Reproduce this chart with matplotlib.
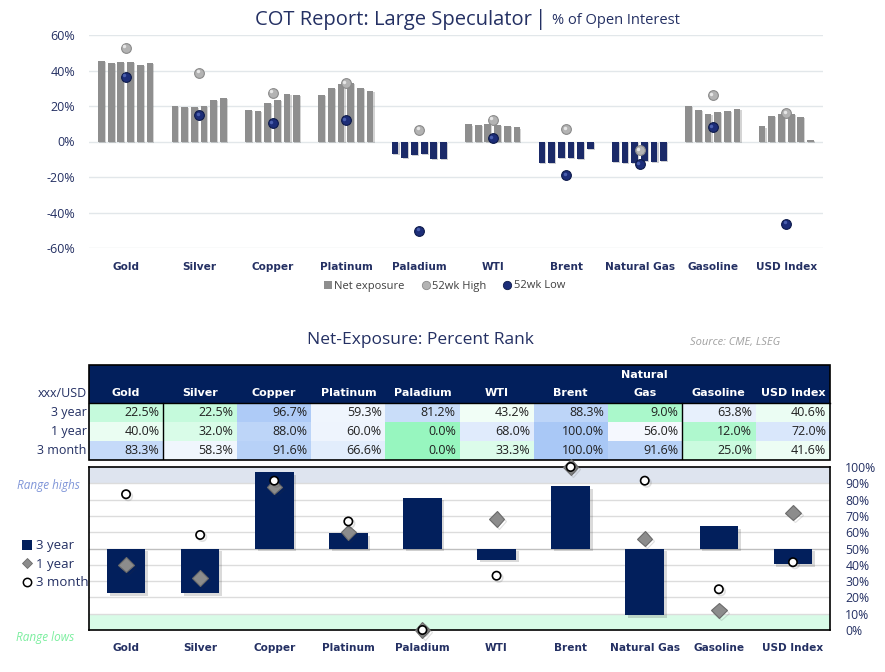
import numpy as np
import matplotlib
matplotlib.use("Agg")
import matplotlib.pyplot as plt
from matplotlib.colors import LinearSegmentedColormap
from matplotlib.patches import Rectangle
from matplotlib.lines import Line2D
import matplotlib.patheffects as pe

# ---------------- data ----------------
categories = ["Gold", "Silver", "Copper", "Platinum", "Paladium", "WTI",
              "Brent", "Natural Gas", "Gasoline", "USD Index"]
table_headers = ["Gold", "Silver", "Copper", "Platinum", "Paladium", "WTI",
                 "Brent", "Natural\nGas", "Gasoline", "USD Index"]

net_gold = [45.3, 44.3, 44.7, 44.7, 43.0, 44.3]
net_silver = [20.2, 19.4, 19.6, 20.2, 23.6, 24.3]
net_copper = [17.9, 17.4, 21.9, 23.2, 27.0, 26.4]
net_platinum = [26.2, 30.0, 32.6, 32.8, 30.0, 28.7]
net_paladium = [-7.0, -9.2, -7.5, -7.0, -9.8, -9.8]
net_wti = [9.6, 9.2, 9.6, 9.2, 8.7, 7.9]
net_brent = [-12.3, -12.3, -9.4, -9.4, -10.0, -4.3]
net_natgas = [-11.7, -12.3, -12.3, -10.8, -11.3, -10.8]
net_gasoline = [19.8, 17.9, 15.5, 16.8, 17.4, 18.3]
net_usd = [8.5, 14.2, 15.3, 15.3, 13.8, 1.1]
net_exposure = [net_gold, net_silver, net_copper, net_platinum, net_paladium,
                net_wti, net_brent, net_natgas, net_gasoline, net_usd]

high_52wk = [52.8, 38.7, 27.5, 33.0, 6.6, 12.3, 7.0, -4.9, 26.2, 16.0]
low_52wk = [36.4, 14.9, 10.4, 12.1, -50.2, 1.9, -19.1, -12.8, 8.1, -46.2]

rank_3y = [22.5, 22.5, 96.7, 59.3, 81.2, 43.2, 88.3, 9.0, 63.8, 40.6]
rank_1y = [40.0, 32.0, 88.0, 60.0, 0.0, 68.0, 100.0, 56.0, 12.0, 72.0]
rank_3m = [83.3, 58.3, 91.6, 66.6, 0.0, 33.3, 100.0, 91.6, 25.0, 41.6]
row_labels = ["3 year", "1 year", "3 month"]

# ---------------- style ----------------
NAVY = "#021f5c"
TXT = "#243063"
GRAY_BAR = "#8e8e8e"
NAVY_BAR = "#1b2a68"
W, H = 885, 672

def fx(px):
    return px / W

def fy(py):
    return 1 - py / H

fig = plt.figure(figsize=(8.85, 6.72), dpi=100)
fig.patch.set_facecolor("white")
SANS = ["Open Sans", "DejaVu Sans"]
BOLD = ["DejaVu Sans"]

# ---------------- titles ----------------
fig.text(fx(532), fy(20), "COT Report: Large Speculator", ha="right", va="center",
         fontsize=14.5, color=TXT, family=SANS)
fig.text(fx(541), fy(19), "|", ha="center", va="center", fontsize=15, color=TXT, family=SANS)
fig.text(fx(552), fy(21), "% of Open Interest", ha="left", va="center",
         fontsize=10.5, color=TXT, family=SANS)

# ---------------- top chart ----------------
ax1 = fig.add_axes([fx(89), fy(248), fx(823) - fx(89), (248 - 35) / H])
n = len(categories)
x = np.arange(n)
pitch = 0.132
bw = 0.092
for i, vals in enumerate(net_exposure):
    offs = (np.arange(len(vals)) - (len(vals) - 1) / 2) * pitch
    cols = [GRAY_BAR if v >= 0 else NAVY_BAR for v in vals]
    ax1.bar(x[i] + offs, vals, width=bw, color=cols, zorder=3,
            path_effects=[pe.withSimplePatchShadow(offset=(0.8, -0.8), alpha=0.2)])

ax1.plot(x, high_52wk, "o", ms=7, color="#b3b3b3", mec="#8a8a8a", mew=0.8, zorder=5)
ax1.plot(x - 0.02, np.array(high_52wk) + 0.8, "o", ms=2.5, color="#e6e6e6", mew=0, zorder=6)
ax1.plot(x, low_52wk, "o", ms=7, color="#1c2d78", mec="#0d1a4a", mew=0.8, zorder=5)
ax1.plot(x - 0.02, np.array(low_52wk) + 0.8, "o", ms=2.5, color="#4a5fae", mew=0, zorder=6)

ax1.set_xlim(-0.5, n - 0.5)
ax1.set_ylim(-60, 60)
ax1.set_yticks(np.arange(-60, 61, 20))
ax1.set_yticklabels([f"{v}%" for v in range(-60, 61, 20)], family=SANS, fontsize=9, color=TXT)
ax1.set_xticks([])
ax1.grid(axis="y", color="#e2e7ea", lw=1, zorder=0)
for s in ax1.spines.values():
    s.set_visible(False)
ax1.tick_params(axis="y", length=0, pad=10)
for i, c in enumerate(categories):
    ax1.text(x[i], -70.5, c, ha="center", va="center", fontsize=7.6, fontweight="bold",
             color=TXT, family=BOLD)

# legend (top)
handles = [
    Line2D([], [], ls="none", marker="s", ms=6, color=GRAY_BAR, mew=0),
    Line2D([], [], ls="none", marker="o", ms=6, color="#b3b3b3", mec="#8a8a8a", mew=0.6),
    Line2D([], [], ls="none", marker="o", ms=6, color="#1c2d78", mec="#0d1a4a", mew=0.6),
]
fig.legend(handles, ["Net exposure", "52wk High", "52wk Low"], loc="center",
           bbox_to_anchor=(fx(445), fy(286)), ncol=3, frameon=False,
           prop={"family": SANS, "size": 8}, labelcolor="#404040",
           handlelength=0.6, handletextpad=0.25, columnspacing=1.6)

# ---------------- second title ----------------
fig.text(fx(420), fy(340), "Net-Exposure: Percent Rank", ha="center", va="center",
         fontsize=12.5, color=TXT, family=SANS)
fig.text(fx(735), fy(342), "Source: CME, LSEG", ha="center", va="center",
         fontsize=8, color="#a0a0a0", style="italic", family=SANS)

# ---------------- table ----------------
axt = fig.add_axes([fx(89), fy(460), fx(830) - fx(89), 95 / H])
axt.set_xlim(0, 10)
axt.set_ylim(5, 0)
axt.axis("off")
axt.add_patch(Rectangle((0, 0), 10, 2, color=NAVY, lw=0))
cmap = LinearSegmentedColormap.from_list("gwb", ["#97f6bf", "#ffffff", "#a9c8f6"])
vals = np.array([rank_3y, rank_1y, rank_3m])
axt.pcolormesh(np.arange(11), np.arange(2, 6), vals, cmap=cmap, vmin=0, vmax=100)
for j, h in enumerate(table_headers):
    if "\n" in h:
        a, b = h.split("\n")
        axt.text(j + 0.5, 0.5, a, ha="center", va="center", color="white",
                 fontsize=8, fontweight="bold", family=BOLD)
        axt.text(j + 0.5, 1.5, b, ha="center", va="center", color="white",
                 fontsize=8, fontweight="bold", family=BOLD)
    else:
        axt.text(j + 0.5, 1.5, h, ha="center", va="center", color="white",
                 fontsize=8, fontweight="bold", family=BOLD)
for r in range(3):
    for j in range(10):
        axt.text(j + 0.95, 2.5 + r, f"{vals[r, j]:.1f}%", ha="right", va="center",
                 color="#202020", fontsize=9, family=SANS)
axt.text(-0.03, 1.5, "xxx/USD", ha="right", va="center", color=TXT, fontsize=9, family=SANS)
for r, lab in enumerate(row_labels):
    axt.text(-0.03, 2.5 + r, lab, ha="right", va="center", color=TXT, fontsize=9, family=SANS)
axt.add_patch(Rectangle((0, 0), 10, 5, fill=False, ec="black", lw=1.2, clip_on=False))
axt.plot([0, 10], [2, 2], color="black", lw=1.0, clip_on=False)
axt.plot([1, 1], [2, 5], color="black", lw=1.0)
axt.plot([8, 8], [2, 5], color="black", lw=1.0)

# ---------------- bottom chart ----------------
ax2 = fig.add_axes([fx(89), fy(630), fx(830) - fx(89), (630 - 467) / H])
ax2.set_xlim(-0.5, n - 0.5)
ax2.set_ylim(0, 100)
ax2.axhspan(90, 100, color="#dee4ef", lw=0, zorder=0)
ax2.axhspan(0, 10, color="#d8fbe7", lw=0, zorder=0)
for g in range(10, 100, 10):
    ax2.axhline(g, color="#bfbfbf" if g == 50 else "#dcdcdc", lw=1, zorder=1)
shadow = [pe.withSimplePatchShadow(offset=(2, -2), alpha=0.18, shadow_rgbFace="#333333")]
ax2.bar(x, np.array(rank_3y) - 50, bottom=50, width=0.52, color=NAVY, zorder=3,
        path_effects=shadow)
mshadow = [pe.SimpleLineShadow(offset=(1.5, -1.5), alpha=0.15, shadow_color="#333333"), pe.Normal()]
ax2.plot(x, rank_1y, "D", ms=7.8, color="#8c8c8c", mec="#6b6b6b", mew=0.8, zorder=5,
         clip_on=False, path_effects=mshadow)
ax2.plot(x, rank_3m, "o", ms=6, color="white", mec="black", mew=1.2, zorder=6,
         clip_on=False, path_effects=mshadow)
for s in ax2.spines.values():
    s.set_color("black")
    s.set_linewidth(1.2)
ax2.set_xticks([])
ax2.yaxis.tick_right()
ax2.set_yticks(np.arange(0, 101, 10))
ax2.set_yticklabels([f"{v}%" for v in range(0, 101, 10)], family=SANS, fontsize=8.8, color=TXT)
ax2.tick_params(axis="y", length=0, pad=11)
for i, c in enumerate(categories):
    ax2.text(x[i], -11, c, ha="center", va="center", fontsize=7.6, fontweight="bold",
             color=TXT, family=BOLD)

fig.text(fx(17), fy(485), "Range highs", ha="left", va="center", fontsize=8.5,
         color="#7f95d8", style="italic", family=SANS)
fig.text(fx(16), fy(638), "Range lows", ha="left", va="center", fontsize=8.5,
         color="#7cee9f", style="italic", family=SANS)

# legend (bottom left)
leg_handles = [
    Line2D([], [], ls="none", marker="s", ms=7.5, color=NAVY, mew=0),
    Line2D([], [], ls="none", marker="D", ms=5.5, color="#8c8c8c", mec="#6b6b6b", mew=0.6),
    Line2D([], [], ls="none", marker="o", ms=6, color="white", mec="black", mew=1.1),
]
fig.legend(leg_handles, row_labels, loc="upper left",
           bbox_to_anchor=(fx(12), fy(530)), frameon=False,
           prop={"family": SANS, "size": 9.5}, labelcolor=TXT,
           handlelength=0.8, handletextpad=0.3, labelspacing=0.42, borderpad=0.2)

fig.savefig("out.png", dpi=100)
